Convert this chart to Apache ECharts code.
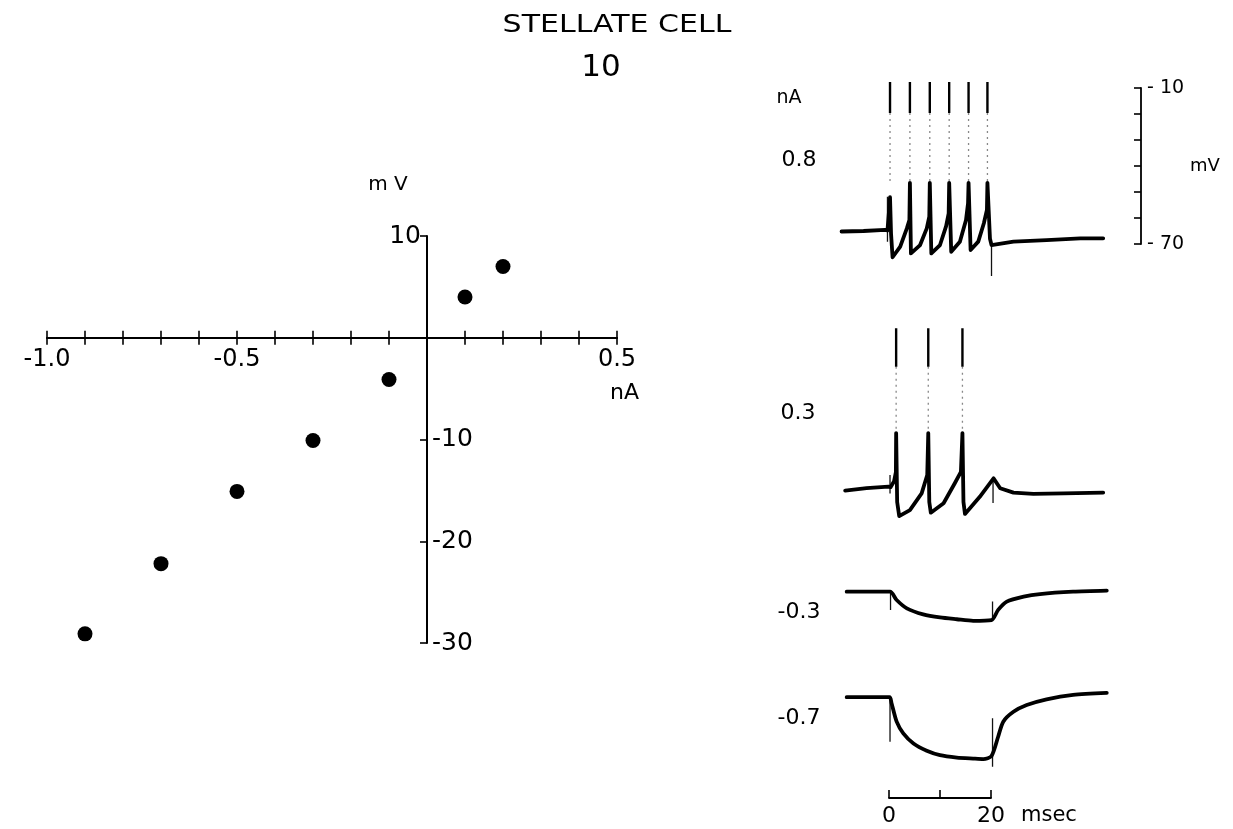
<!DOCTYPE html>
<html><head><meta charset="utf-8">
<script src="https://cdn.jsdelivr.net/npm/echarts@6/dist/echarts.min.js"></script>
<style>html,body{margin:0;padding:0;background:#fff}#c{width:1233px;height:829px}</style>
</head><body><div id="c"></div>
<script>
// ================= DATA =================
const titleText = 'STELLATE CELL';
const cellNumber = '10';

// Left panel: voltage deflection (mV) vs injected current (nA)
const ivCurrent = [-0.9, -0.7, -0.5, -0.3, -0.1, 0.1, 0.2];
const ivVoltage = [-29.1, -22.2, -15.1, -10.1, -4.1, 4.0, 7.0];
const ivXMin = -1.0, ivXMax = 0.5, ivXStep = 0.1;
const ivYMin = -30, ivYMax = 10, ivYStep = 10;
const ivXLabelValues = [-1.0, -0.5, 0.5];
const ivXLabelTexts = ['-1.0', '-0.5', '0.5'];
const ivYLabelValues = [10, -10, -20, -30];
const ivYLabelTexts = ['10', '-10', '-20', '-30'];

// Right panel: membrane potential traces [time ms, mV]
const traceCurrents = ['0.8', '0.3', '-0.3', '-0.7'];
const trace08 = [[-9.3,-65.2],[-5,-65],[-0.8,-64.6],[-0.3,-64.8],[0.1,-55],[0.2,-52],[0.4,-66],[0.7,-75.1],
  [2.2,-71],[3.5,-64],[4.0,-60.8],[4.1,-46.5],[4.3,-73.6],
  [6.1,-70.4],[7.4,-64],[7.9,-59.5],[8.0,-46.5],[8.3,-73.6],
  [10.0,-70.4],[11.2,-63.1],[11.7,-58.2],[11.8,-46.5],[12.2,-73],
  [13.9,-69.1],[15.1,-60.8],[15.5,-54.3],[15.6,-46.5],[16.0,-72.3],
  [17.5,-69.1],[18.6,-62],[19.2,-56.9],[19.3,-46.5],[19.8,-68],[20.1,-70.4],
  [24.4,-69.1],[30.9,-68.5],[37.5,-67.8],[42,-67.8]];
const trace03 = [[-8.6,-65.6],[-4.4,-64.7],[-0.1,-64.1],[0.3,-64.3],[1.0,-62],[1.35,-58.5],[1.4,-43.5],[1.6,-70],[2.0,-75.4],
  [4.1,-73.1],[6.4,-66.7],[7.5,-59.6],[7.7,-43.5],[7.9,-70],[8.2,-74.1],
  [10.7,-70.5],[12.9,-62.8],[14.1,-58.4],[14.4,-43.5],[14.6,-70],[14.9,-74.6],
  [17.8,-68],[20.5,-60.9],[21.8,-64.7],[24.4,-66.4],[28.3,-66.9],[34.2,-66.7],[42,-66.4]];
const traceM03 = [[-8.3,-65],[0.2,-65],[1.5,-68.2],[3.5,-71.4],[6.7,-73.7],[10,-74.9],[13.3,-75.6],[16.5,-76.2],
  [20.1,-75.9],[21.4,-72],[23.1,-68.8],[26.4,-66.9],[29.6,-65.9],[36.1,-65],[42.7,-64.6]];
const traceM07 = [[-8.3,-65.2],[0.1,-65.2],[0.5,-67.5],[1.5,-74.6],[2.8,-79.1],[4.8,-83],[7.4,-85.8],[10,-87.5],
  [13.3,-88.4],[16.5,-88.8],[18.5,-89],[20.1,-87.8],[21.4,-80.4],[22.4,-74.6],[24.4,-70.8],[27,-68.2],
  [30.9,-66],[36.1,-64.3],[42.7,-63.5]];

// spikes: times (ms), [peak, end of solid tip, top of thick upstroke] (mV)
const spikeTimes08 = [0.2, 4.1, 8.0, 11.8, 15.6, 19.3];
const spikeLevels08 = [-7.7, -19.6, -46.5];
const spikeTimes03 = [1.4, 7.7, 14.4];
const spikeLevels03 = [-3.2, -18, -43.5];

// stimulus artifacts: [time ms, top mV, bottom mV]
const artifacts08 = [[-0.3,-51.8,-69.1],[20.1,-69.6,-82.3]];
const artifacts03 = [[0.2,-59.6,-66.7],[20.4,-61,-70.4]];
const artifactsM03 = [[0.3,-65,-72],[20.3,-68.8,-76]];
const artifactsM07 = [[0.2,-65.2,-82.3],[20.3,-73.3,-91.9]];

// calibration bars
const mVBarMin = -70, mVBarMax = -10, mVBarStep = 10;
const mVBarLabels = {'-10': '- 10', '-70': '- 70'};
const msBarMin = 0, msBarMax = 20, msBarStep = 10;

// ================= LAYOUT / STYLE =================
const FONT = 'DejaVu Sans';
const IV = {left: 47, top: 236, width: 570, height: 407};
// pixel offsets so the axes cross at (0, 0)
const ivXAxisOffset = -IV.height * (0 - ivYMin) / (ivYMax - ivYMin);
const ivYAxisOffset = -IV.width * (0 - ivXMin) / (ivXMax - ivXMin);
const traceTops = [62, 320, 422.7, 527.7];   // pixel of 0 mV for each trace grid
const traceSmooth = [0, 0, 0.25, 0.25];
const currentLabelPos = [[799,160],[798,413],[799,612],[799,718]];

const chart = echarts.init(document.getElementById('c'));

function segs(list) { // list of [t, v1, v2] -> broken line data
  const out = [];
  list.forEach(s => { out.push([s[0], s[1]], [s[0], s[2]], [s[0], '-']); });
  return out;
}
const txt = (size) => ({color: '#000', fontFamily: FONT, fontSize: size});

const grids = [IV];
const xAxes = [
  {gridIndex: 0, type: 'value', min: ivXMin, max: ivXMax, interval: ivXStep, position: 'bottom', offset: ivXAxisOffset,
   axisLine: {onZero: false, lineStyle: {color: '#000', width: 2}},
   axisTick: {show: true, inside: false, length: 7, lineStyle: {color: '#000', width: 1.6}},
   axisLabel: Object.assign({margin: 10,
     formatter: v => { const i = ivXLabelValues.findIndex(a => Math.abs(a - v) < 1e-6); return i >= 0 ? ivXLabelTexts[i] : ''; }}, txt(24)),
   splitLine: {show: false},
   name: 'nA', nameLocation: 'end', nameGap: -7,
   nameTextStyle: Object.assign({align: 'left', verticalAlign: 'top', padding: [45,0,0,0]}, txt(22))},
  {gridIndex: 0, type: 'value', min: ivXMin, max: ivXMax, interval: ivXStep, position: 'bottom', offset: ivXAxisOffset,
   axisLine: {onZero: false, lineStyle: {color: '#000', width: 2}},
   axisTick: {show: true, inside: true, length: 7, lineStyle: {color: '#000', width: 1.6}},
   axisLabel: {show: false}, splitLine: {show: false}}
];
const yAxes = [
  {gridIndex: 0, type: 'value', min: ivYMin, max: ivYMax, interval: ivYStep, position: 'left', offset: ivYAxisOffset,
   axisLine: {onZero: false, lineStyle: {color: '#000', width: 2}},
   axisTick: {show: true, inside: false, length: 7, lineStyle: {color: '#000', width: 1.6}},
   axisLabel: Object.assign({inside: true, margin: 5,
     formatter: v => { const i = ivYLabelValues.indexOf(v); return (i >= 0 && v < 0) ? ivYLabelTexts[i] : ''; }}, txt(25)),
   splitLine: {show: false},
   name: 'm V', nameLocation: 'end', nameGap: 41,
   nameTextStyle: Object.assign({padding: [0, 78, 0, 0]}, txt(20))},
  {gridIndex: 0, type: 'value', min: ivYMin, max: ivYMax, interval: ivYStep, position: 'left', offset: ivYAxisOffset,
   axisLine: {show: false, onZero: false}, axisTick: {show: false},
   axisLabel: Object.assign({margin: 6,
     formatter: v => { const i = ivYLabelValues.indexOf(v); return (i >= 0 && v > 0) ? ivYLabelTexts[i] : ''; }}, txt(25)),
   splitLine: {show: false}}
];
const series = [
  {type: 'scatter', xAxisIndex: 0, yAxisIndex: 0, symbol: 'circle', symbolSize: 15,
   itemStyle: {color: '#000', opacity: 1}, data: ivCurrent.map((c, i) => [c, ivVoltage[i]]), z: 5}
];

const traces = [trace08, trace03, traceM03, traceM07];
const artifacts = [artifacts08, artifacts03, artifactsM03, artifactsM07];
const spikes = [[spikeTimes08, spikeLevels08], [spikeTimes03, spikeLevels03], null, null];

traces.forEach((tr, k) => {
  const g = grids.length;
  grids.push({left: 838, top: traceTops[k], width: 275.4, height: 260});
  xAxes.push({gridIndex: g, type: 'value', min: -10, max: 44, show: false});
  yAxes.push({gridIndex: g, type: 'value', min: -100, max: 0, show: false});
  const xi = xAxes.length - 1, yi = yAxes.length - 1;
  series.push({type: 'line', xAxisIndex: xi, yAxisIndex: yi, data: tr, showSymbol: false, clip: false,
    smooth: traceSmooth[k],
    lineStyle: {color: '#000', width: 3.8, join: 'round', cap: 'round'}, z: 3});
  series.push({type: 'line', xAxisIndex: xi, yAxisIndex: yi, data: segs(artifacts[k]), showSymbol: false, clip: false,
    lineStyle: {color: '#111', width: 1.3}, z: 2});
  if (spikes[k]) {
    const [times, lv] = spikes[k];
    series.push({type: 'line', xAxisIndex: xi, yAxisIndex: yi, showSymbol: false, clip: false,
      data: segs(times.map(t => [t, lv[0], lv[1]])), lineStyle: {color: '#000', width: 2.4}, z: 3});
    series.push({type: 'line', xAxisIndex: xi, yAxisIndex: yi, showSymbol: false, clip: false,
      data: segs(times.map(t => [t, lv[1], lv[2]])), lineStyle: {color: '#888', width: 1.3, type: [2, 4]}, z: 2});
  }
});

// mV calibration bar
grids.push({left: 1100, top: 88, width: 41, height: 156});
xAxes.push({gridIndex: grids.length - 1, type: 'value', min: 0, max: 1, show: false});
yAxes.push({gridIndex: grids.length - 1, type: 'value', position: 'right', min: mVBarMin, max: mVBarMax, interval: mVBarStep,
  axisLine: {show: true, onZero: false, lineStyle: {color: '#000', width: 1.8}},
  axisTick: {show: true, inside: true, length: 7, lineStyle: {color: '#000', width: 1.6}},
  axisLabel: Object.assign({margin: 6, formatter: v => mVBarLabels[String(v)] || ''}, txt(19)),
  splitLine: {show: false},
  name: 'mV', nameLocation: 'middle', nameRotate: 0, nameGap: 49,
  nameTextStyle: txt(18)});

// time calibration bar
grids.push({left: 889, top: 700, width: 102, height: 98});
xAxes.push({gridIndex: grids.length - 1, type: 'value', min: msBarMin, max: msBarMax, interval: msBarStep,
  axisLine: {show: true, onZero: false, lineStyle: {color: '#000', width: 1.8}},
  axisTick: {show: true, inside: true, length: 8, lineStyle: {color: '#000', width: 1.6}},
  axisLabel: Object.assign({margin: 7, formatter: v => (v === msBarMin || v === msBarMax) ? String(v) : ''}, txt(22)),
  splitLine: {show: false},
  name: 'msec', nameLocation: 'end', nameGap: 30,
  nameTextStyle: Object.assign({verticalAlign: 'top', padding: [7, 0, 0, 0]}, txt(21))});
yAxes.push({gridIndex: grids.length - 1, type: 'value', min: 0, max: 1, show: false});

const graphics = [
  {type: 'text', x: 617, y: 25, scaleX: 1.2, originX: 0, originY: 0,
   style: {text: titleText, fill: '#000', font: '25px "' + FONT + '"', textAlign: 'center', textVerticalAlign: 'middle'}},
  {type: 'text', x: 601, y: 68,
   style: {text: cellNumber, fill: '#000', font: '31px "' + FONT + '"', textAlign: 'center', textVerticalAlign: 'middle'}},
  {type: 'text', x: 789, y: 98,
   style: {text: 'nA', fill: '#000', font: '19px "' + FONT + '"', textAlign: 'center', textVerticalAlign: 'middle'}}
];
traceCurrents.forEach((c, k) => {
  graphics.push({type: 'text', x: currentLabelPos[k][0], y: currentLabelPos[k][1],
    style: {text: c, fill: '#000', font: '22px "' + FONT + '"', textAlign: 'center', textVerticalAlign: 'middle'}});
});

chart.setOption({
  animation: false,
  backgroundColor: '#fff',
  grid: grids,
  xAxis: xAxes,
  yAxis: yAxes,
  series: series,
  graphic: graphics
});
</script>
</body></html>
